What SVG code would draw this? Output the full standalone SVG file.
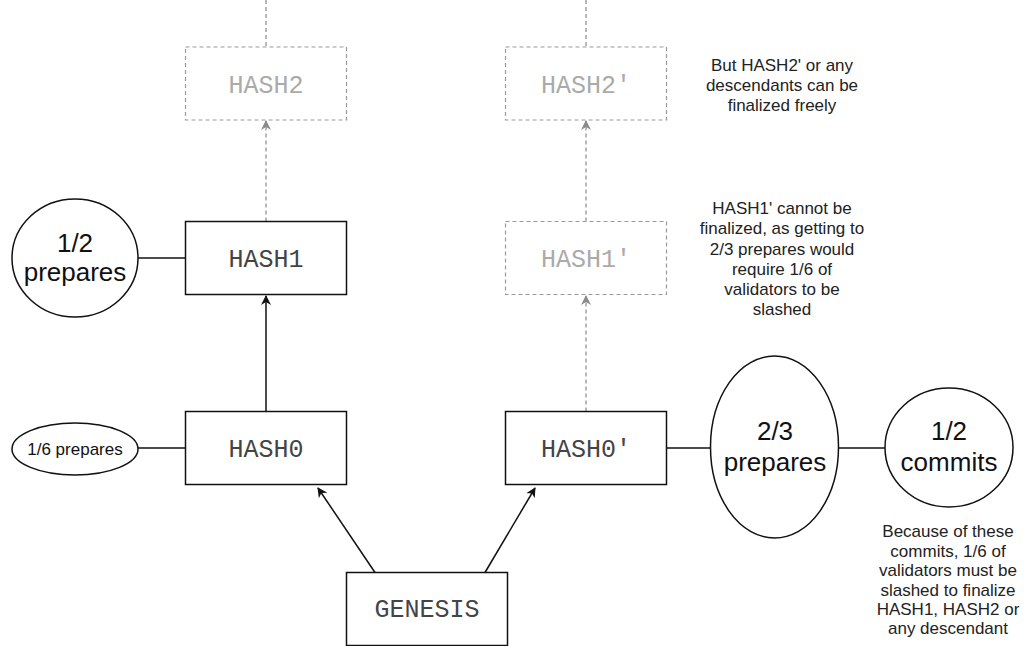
<svg xmlns="http://www.w3.org/2000/svg" width="1024" height="646" viewBox="0 0 1024 646">
<defs>
<style>
.box{fill:#fff;stroke:#111;stroke-width:1.5}
.dbox{fill:#fff;stroke:#9a9a9a;stroke-width:1.2;stroke-dasharray:4 3}
.mono{font-family:"Liberation Mono","Courier New",monospace;font-size:25px;text-anchor:middle;fill:#444}
.dmono{font-family:"Liberation Mono","Courier New",monospace;font-size:25px;text-anchor:middle;fill:#aaaaaa}
.ell{fill:#fff;stroke:#111;stroke-width:1.5}
.big{font-family:"Liberation Sans",Arial,sans-serif;font-size:26px;text-anchor:middle;fill:#111}
.note{font-family:"Liberation Sans",Arial,sans-serif;font-size:17px;text-anchor:middle;fill:#222}
.edge{fill:none;stroke:#111;stroke-width:1.5}
.dedge{fill:none;stroke:#8a8a8a;stroke-width:1.2;stroke-dasharray:4 3}
</style>
<marker id="ah" viewBox="0 0 10 10" refX="9" refY="5" markerWidth="10" markerHeight="10" markerUnits="userSpaceOnUse" orient="auto">
<path d="M0,0 L10,5 L0,10 L3,5 Z" fill="#111"/>
</marker>
<marker id="dah" viewBox="0 0 10 10" refX="9" refY="5" markerWidth="10" markerHeight="10" markerUnits="userSpaceOnUse" orient="auto">
<path d="M0,0 L10,5 L0,10 L3,5 Z" fill="#8a8a8a"/>
</marker>
</defs>
<rect width="1024" height="646" fill="#fff"/>

<g id="connectors">
<path class="dedge" d="M266,0 V47"/>
<path class="dedge" d="M586,0 V47"/>
<path class="dedge" d="M266,221.5 V121" marker-end="url(#dah)"/>
<path class="dedge" d="M586,221.5 V121" marker-end="url(#dah)"/>
<path class="dedge" d="M586,411.5 V296" marker-end="url(#dah)"/>
<path class="edge" d="M266,411.5 V296" marker-end="url(#ah)"/>
<path class="edge" d="M375,572.5 L318,488" marker-end="url(#ah)"/>
<path class="edge" d="M485,572.5 L535,488" marker-end="url(#ah)"/>
<path class="edge" d="M138,258 H185.5"/>
<path class="edge" d="M138,448 H185.5"/>
<path class="edge" d="M666.5,448 H710.5"/>
<path class="edge" d="M838.5,448 H885"/>
</g>

<g id="hash2">
<rect class="dbox" x="185.5" y="47" width="161" height="73"/>
<text class="dmono" x="266" y="92.5">HASH2</text>
</g>
<g id="hash2p">
<rect class="dbox" x="505.5" y="47" width="161" height="73"/>
<text class="dmono" x="586" y="92.5">HASH2'</text>
</g>
<g id="hash1">
<rect class="box" x="185.5" y="221.5" width="161" height="73"/>
<text class="mono" x="266" y="267">HASH1</text>
</g>
<g id="hash1p">
<rect class="dbox" x="505.5" y="221.5" width="161" height="73"/>
<text class="dmono" x="586" y="267">HASH1'</text>
</g>
<g id="hash0">
<rect class="box" x="185.5" y="411.5" width="161" height="73"/>
<text class="mono" x="266" y="457">HASH0</text>
</g>
<g id="hash0p">
<rect class="box" x="505.5" y="411.5" width="161" height="73"/>
<text class="mono" x="586" y="457">HASH0'</text>
</g>
<g id="genesis">
<rect class="box" x="346.5" y="572.5" width="161" height="73"/>
<text class="mono" x="427" y="617">GENESIS</text>
</g>

<g id="half-prepares">
<ellipse class="ell" cx="75" cy="258" rx="63" ry="59"/>
<text class="big" x="75" y="252">1/2</text>
<text class="big" x="75" y="281">prepares</text>
</g>
<g id="sixth-prepares">
<ellipse class="ell" cx="75" cy="449" rx="63" ry="26"/>
<text class="note" x="75" y="455" style="fill:#111">1/6 prepares</text>
</g>
<g id="twothirds-prepares">
<ellipse class="ell" cx="774.5" cy="447" rx="64" ry="91"/>
<text class="big" x="775" y="440">2/3</text>
<text class="big" x="775" y="471">prepares</text>
</g>
<g id="half-commits">
<ellipse class="ell" cx="949" cy="447.5" rx="64" ry="59.5"/>
<text class="big" x="949" y="440">1/2</text>
<text class="big" x="949" y="471">commits</text>
</g>

<g id="note-hash2p">
<text class="note" x="782" y="71">But HASH2' or any</text>
<text class="note" x="782" y="91">descendants can be</text>
<text class="note" x="782" y="111">finalized freely</text>
</g>
<g id="note-hash1p">
<text class="note" x="782" y="214">HASH1' cannot be</text>
<text class="note" x="782" y="234">finalized, as getting to</text>
<text class="note" x="782" y="254.5">2/3 prepares would</text>
<text class="note" x="782" y="275">require 1/6 of</text>
<text class="note" x="782" y="295">validators to be</text>
<text class="note" x="782" y="315">slashed</text>
</g>
<g id="note-commits">
<text class="note" x="948" y="537">Because of these</text>
<text class="note" x="948" y="556.5">commits, 1/6 of</text>
<text class="note" x="948" y="576">validators must be</text>
<text class="note" x="948" y="595.5">slashed to finalize</text>
<text class="note" x="948" y="615">HASH1, HASH2 or</text>
<text class="note" x="948" y="634">any descendant</text>
</g>
</svg>
